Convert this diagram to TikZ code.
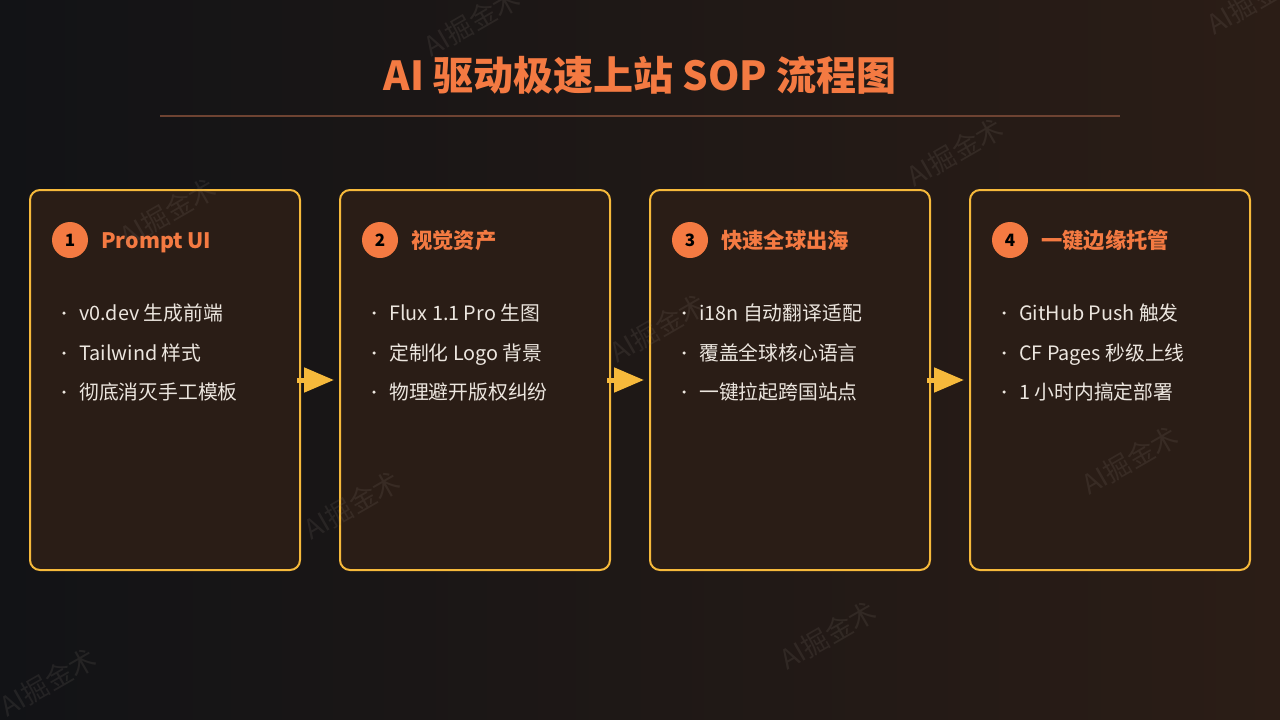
\documentclass[tikz,border=0pt]{standalone}
\usepackage{fontspec}
\setmainfont{Noto Sans CJK SC}
\usetikzlibrary{arrows.meta}
\definecolor{bgL}{HTML}{121316}
\definecolor{bgR}{HTML}{2B1D16}
\definecolor{boxfill}{HTML}{2A1D16}
\definecolor{gold}{HTML}{F6B93B}
\definecolor{accent}{HTML}{F47A42}
\definecolor{txt}{HTML}{ECE6DF}
\definecolor{rulec}{HTML}{6E4332}
\definecolor{wm}{HTML}{8A8078}
\tikzset{
  stepbox/.style={draw=gold, line width=2pt, fill=boxfill, rounded corners=10pt, inner sep=0pt},
  numdot/.style={circle, fill=accent, minimum size=36pt, inner sep=0pt, text=black, font=\fontsize{17}{17}\selectfont\bfseries},
  headtxt/.style={anchor=base west, text=accent, font=\fontsize{21.3}{22}\selectfont\bfseries, inner sep=0pt},
  itemtxt/.style={anchor=base west, text=txt, font=\fontsize{19.8}{20}\selectfont, inner sep=0pt},
  bulletdot/.style={circle, fill=txt, minimum size=3.5pt, inner sep=0pt},
  flow/.style={draw=gold, line width=5pt, -{Triangle[length=30pt,width=24pt]}, shorten <=-4pt, shorten >=5pt},
  wmark/.style={text=wm, opacity=0.15, rotate=30, font=\fontsize{27}{27}\selectfont, inner sep=0pt}
}
\begin{document}
\begin{tikzpicture}[x=1pt,y=-1pt]
\shade[left color=bgL, right color=bgR] (0,0) rectangle (1280,720);
\useasboundingbox (0,0) rectangle (1280,720);
% title
\node[anchor=base, text=accent, font=\fontsize{40}{40}\selectfont\bfseries, inner sep=0pt] (title) at (640,90) {AI 驱动极速上站 SOP 流程图};
\coordinate (ruleL) at (160,116);
\coordinate (ruleR) at (1120,116);
\draw[rulec, line width=1.5pt] (ruleL) -- (ruleR);
% boxes
\node[stepbox, minimum width=270pt, minimum height=380pt] (b1) at (165,380) {};
\node[stepbox, minimum width=270pt, minimum height=380pt] (b2) at (475,380) {};
\node[stepbox, minimum width=280pt, minimum height=380pt] (b3) at (790,380) {};
\node[stepbox, minimum width=280pt, minimum height=380pt] (b4) at (1110,380) {};
% arrows
\draw[flow] (b1.east) -- (b2.west);
\draw[flow] (b2.east) -- (b3.west);
\draw[flow] (b3.east) -- (b4.west);
% box 1
\node[numdot] (n1) at (70,240) {1};
\node[headtxt] (h1) at (101,248) {Prompt UI};
\node[bulletdot] (d11) at (64,313) {};
\node[itemtxt] (t11) at (79,320) {v0.dev 生成前端};
\node[bulletdot] (d12) at (64,353) {};
\node[itemtxt] (t12) at (79,360) {Tailwind 样式};
\node[bulletdot] (d13) at (64,392) {};
\node[itemtxt] (t13) at (79,399) {彻底消灭手工模板};
% box 2
\node[numdot] (n2) at (380,240) {2};
\node[headtxt] (h2) at (411,248) {视觉资产};
\node[bulletdot] (d21) at (374,313) {};
\node[itemtxt] (t21) at (389,320) {Flux 1.1 Pro 生图};
\node[bulletdot] (d22) at (374,353) {};
\node[itemtxt] (t22) at (389,360) {定制化 Logo 背景};
\node[bulletdot] (d23) at (374,392) {};
\node[itemtxt] (t23) at (389,399) {物理避开版权纠纷};
% box 3
\node[numdot] (n3) at (690,240) {3};
\node[headtxt] (h3) at (721,248) {快速全球出海};
\node[bulletdot] (d31) at (684,313) {};
\node[itemtxt] (t31) at (699,320) {i18n 自动翻译适配};
\node[bulletdot] (d32) at (684,353) {};
\node[itemtxt] (t32) at (699,360) {覆盖全球核心语言};
\node[bulletdot] (d33) at (684,392) {};
\node[itemtxt] (t33) at (699,399) {一键拉起跨国站点};
% box 4
\node[numdot] (n4) at (1010,240) {4};
\node[headtxt] (h4) at (1041,248) {一键边缘托管};
\node[bulletdot] (d41) at (1004,313) {};
\node[itemtxt] (t41) at (1019,320) {GitHub Push 触发};
\node[bulletdot] (d42) at (1004,353) {};
\node[itemtxt] (t42) at (1019,360) {CF Pages 秒级上线};
\node[bulletdot] (d43) at (1004,392) {};
\node[itemtxt] (t43) at (1019,399) {1 小时内搞定部署};
% watermarks
\node[wmark] (w1) at (168,212) {AI掘金术};
\node[wmark] (w2) at (472,22) {AI掘金术};
\node[wmark] (w3) at (955,152) {AI掘金术};
\node[wmark] (w4) at (1255,0) {AI掘金术};
\node[wmark] (w5) at (352,505) {AI掘金术};
\node[wmark] (w6) at (658,328) {AI掘金术};
\node[wmark] (w7) at (1130,460) {AI掘金术};
\node[wmark] (w8) at (828,635) {AI掘金术};
\node[wmark] (w9) at (48,682) {AI掘金术};
\end{tikzpicture}
\end{document}
